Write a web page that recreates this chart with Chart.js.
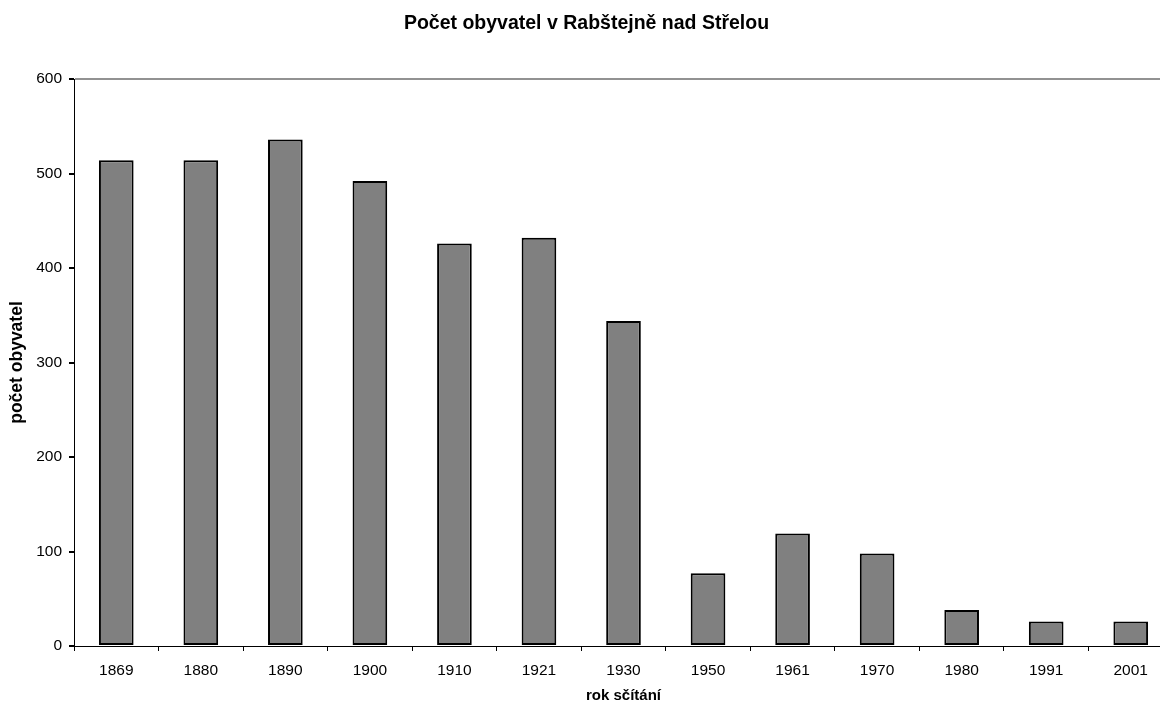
<!DOCTYPE html>
<html>
<head>
<meta charset="utf-8">
<script src="https://cdn.jsdelivr.net/npm/chart.js@4"></script>
<style>
  html, body { margin: 0; padding: 0; background: #fff; overflow: hidden; }
  #wrap { width: 1173px; height: 705px; }
</style>
</head>
<body>
<div id="wrap"><canvas id="popchart" width="1173" height="705"></canvas></div>
<script>
const years = ['1869', '1880', '1890', '1900', '1910', '1921', '1930', '1950', '1961', '1970', '1980', '1991', '2001'];
const population = [514, 514, 536, 492, 426, 432, 344, 77, 119, 98, 38, 26, 26];
const yTicks = [0, 100, 200, 300, 400, 500, 600];

const font = 'Arial, "Liberation Sans", sans-serif';

// the original chart is a bit wider than the picture, its right edge is cut off
const ctx = document.getElementById('popchart').getContext('2d');
const popChart = new Chart(ctx, {
    type: 'bar',
    data: {
        labels: years,
        datasets: [{
            label: 'počet obyvatel',
            data: population,
            backgroundColor: '#808080',
            borderColor: '#000',
            borderWidth: 2,
            borderSkipped: false,
            categoryPercentage: 1,
            barPercentage: 0.41
        }]
    },
    options: {
        responsive: false,
        animation: false,
        events: [],
        plugins: {
            legend: { display: false },
            tooltip: { enabled: false },
            title: {
                display: true,
                text: 'Počet obyvatel v Rabštejně nad Střelou',
                color: '#000',
                font: { family: font, size: 19.5, weight: 'bold' },
                padding: { top: 12, bottom: 43.6 }
            }
        },
        scales: {
            x: {
                grid: {
                    offset: true,
                    drawOnChartArea: false,
                    tickLength: 5,
                    tickColor: '#000'
                },
                border: { color: '#000', width: 1 },
                ticks: {
                    color: '#000',
                    padding: 10,
                    maxRotation: 0,
                    font: { family: font, size: 15.5 }
                },
                title: {
                    display: true,
                    text: 'rok sčítání',
                    color: '#000',
                    font: { family: font, size: 15, weight: 'bold' },
                    padding: { top: 0, bottom: 0 }
                },
                afterFit: function(scale) { scale.height = 59; }
            },
            y: {
                min: 0,
                max: 600,
                afterBuildTicks: function(scale) {
                    scale.ticks = yTicks.map(v => ({ value: v }));
                },
                grid: {
                    tickLength: 5,
                    tickColor: '#000',
                    lineWidth: 2,
                    color: function(c) {
                        return c.tick && c.tick.value === 600 ? '#929292' : 'rgba(0,0,0,0)';
                    }
                },
                border: { color: '#000', width: 1 },
                ticks: {
                    color: '#000',
                    padding: 7,
                    font: { family: font, size: 15.5 }
                },
                title: {
                    display: true,
                    text: 'počet obyvatel',
                    color: '#000',
                    font: { family: font, size: 17.5, weight: 'bold' },
                    padding: { top: 7, bottom: 0 }
                },
                afterFit: function(scale) { scale.width = 74; }
            }
        }
    }
});
</script>
</body>
</html>
